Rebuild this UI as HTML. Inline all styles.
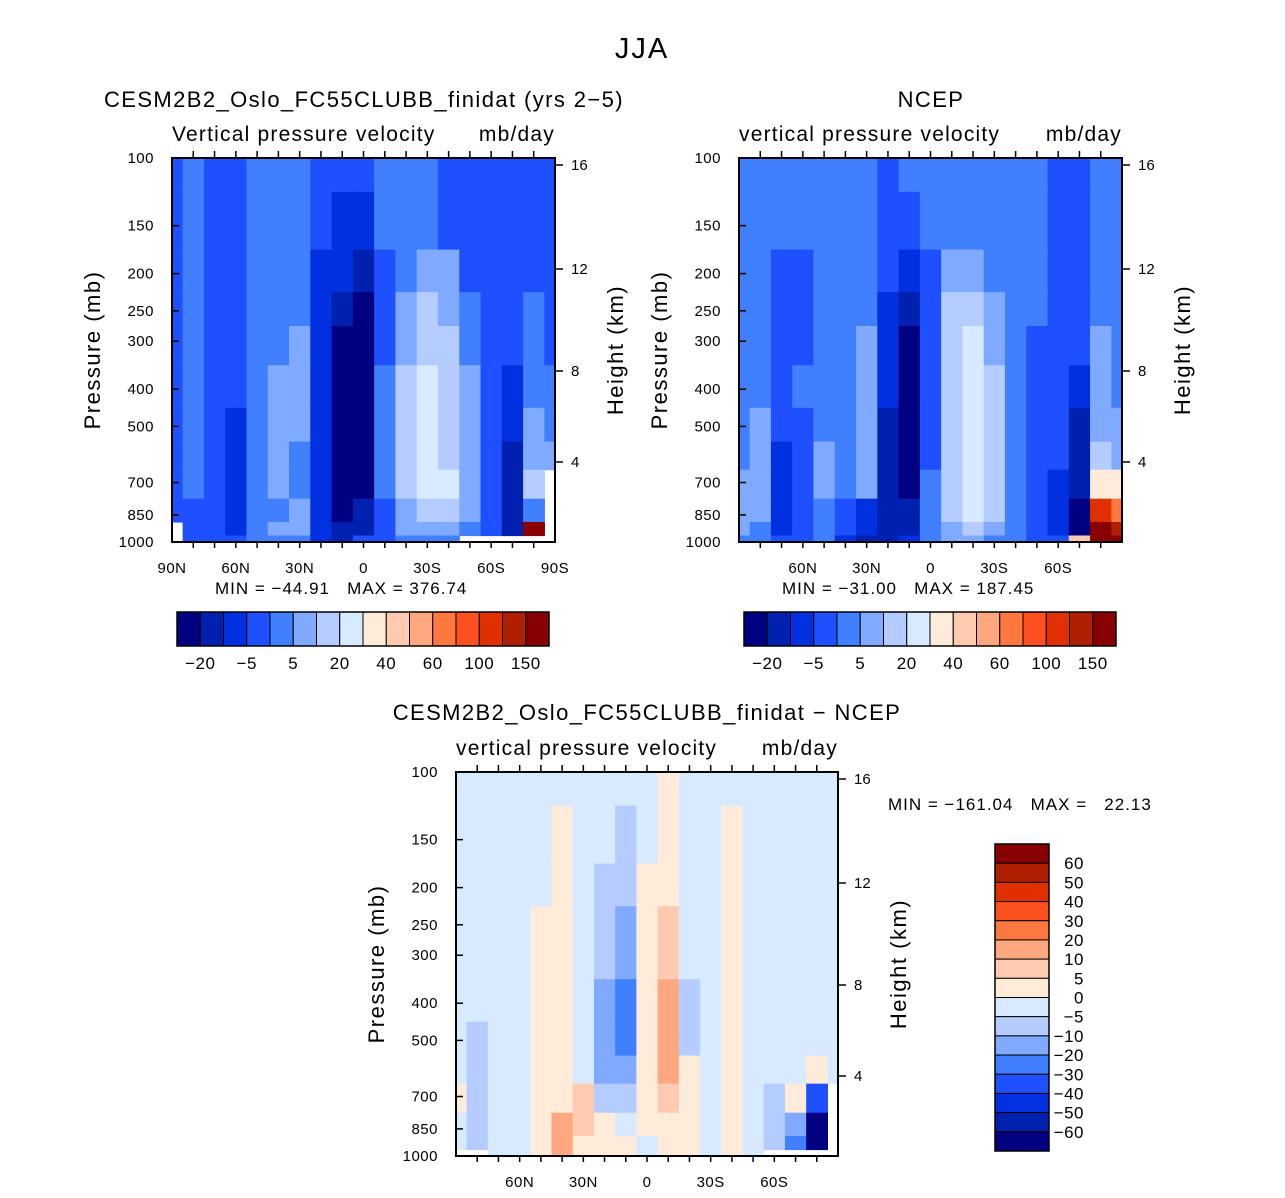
<!DOCTYPE html>
<html><head><meta charset="utf-8"><style>
body{margin:0;background:#fff;}
svg text{font-family:"Liberation Sans",sans-serif;fill:#000;white-space:pre;}
</style></head><body>
<svg id="fig" width="1285" height="1193" viewBox="0 0 1285 1193" xmlns="http://www.w3.org/2000/svg">
<text x="642" y="58" font-size="29" text-anchor="middle" letter-spacing="2">JJA</text>
</svg>
<script>
// ---- data ----
const lats = [90,80,70,60,50,40,30,20,10,0,-10,-20,-30,-40,-50,-60,-70,-80,-90];
const plevs = [100,150,200,250,300,400,500,600,700,850,925,1000];
const levelsMain = [-20,-10,-5,0,5,10,20,30,40,50,60,80,100,120,150];
const levelsDiff = [-60,-50,-40,-30,-20,-10,-5,0,5,10,20,30,40,50,60];
const colors = ["#000080","#0020B0","#0030E0","#1E50FF","#4080FF","#80AAFF","#B4CCFF","#D8EAFF","#FFEBDA","#FFCBB0","#FFA880","#FF7840","#FF5020","#E03000","#B02000","#880000"];
const labelsMain = ["-20","-5","5","20","40","60","100","150"];
const labelsDiff = ["60","50","40","30","20","10","5","0","-5","-10","-20","-30","-40","-50","-60"];
const N = NaN;
const modelW = [
[-2,2,-2,-2,2,2,2,-2,-2,-2,2,2,2,-2,-2,-2,-2,-2,-2],
[-2,2,-2,-2,2,2,2,-2,-7,-7,2,2,2,-2,-2,-2,-2,-2,-2],
[-2,2,-2,-2,2,2,2,-7,-7,-15,-2,2,7,7,-2,-2,-2,-2,-2],
[-2,2,-2,-2,2,2,2,-7,-15,-30,-2,7,15,7,2,-2,-2,2,-2],
[-2,2,-2,-2,2,2,7,-7,-30,-30,-2,7,15,15,2,-2,-2,2,-2],
[-2,2,-2,-2,2,7,7,-7,-30,-30,2,15,25,15,7,-2,-7,2,2],
[-2,2,-2,-7,2,7,7,-7,-30,-30,2,15,25,15,7,-2,-7,7,2],
[-2,2,-2,-7,2,7,2,-7,-30,-30,2,15,25,15,7,-2,-15,7,7],
[-2,2,-2,-7,2,7,2,-7,-30,-30,2,15,25,25,7,-2,-15,15,N],
[-2,-2,-2,-7,2,2,7,-7,-30,-15,-2,7,15,15,7,-2,-15,2,N],
[N,-2,-2,-7,2,7,7,-7,-15,-15,-2,7,7,7,2,-2,-15,150,N],
[N,-2,-2,-2,2,2,2,-7,-15,-2,-2,2,2,2,N,N,N,N,N]];
const ncepW = [
[2,2,2,2,2,2,2,-2,2,2,2,2,2,2,2,-2,-2,2,2],
[2,2,2,2,2,2,2,-2,-2,2,2,2,2,2,2,-2,-2,2,2],
[2,2,-2,-2,2,2,2,-2,-7,-2,7,7,2,2,2,-2,-2,2,2],
[2,2,-2,-2,2,2,2,-7,-15,-2,15,15,7,2,2,-2,-2,2,2],
[2,2,-2,-2,2,2,7,-7,-30,-2,15,25,7,2,-2,-2,-2,7,2],
[2,2,-2,2,2,2,7,-7,-30,-2,15,25,15,2,-2,-2,-7,7,2],
[2,7,-2,-2,2,2,7,-15,-30,-2,15,25,15,2,-2,-2,-15,7,7],
[2,7,-7,-2,7,2,7,-15,-30,-2,15,25,15,2,-2,-2,-15,15,7],
[7,7,-7,-2,7,2,7,-15,-30,2,15,25,15,2,-2,-7,-15,35,35],
[7,7,-7,-2,2,-2,-7,-15,-15,2,15,25,15,2,-2,-7,-30,110,70],
[7,2,-7,-2,2,-2,-7,-15,-15,2,7,15,7,2,-2,-7,-30,200,130],
[2,2,-2,-2,2,-7,-15,-15,-7,2,7,7,2,2,-2,-2,45,200,200]];
const diffW = [
[-2,-2,-2,-2,-2,-2,-2,-2,-2,-2,2,-2,-2,-2,-2,-2,-2,-2,-2],
[-2,-2,-2,-2,-2,2,-2,-2,-7,-2,2,-2,-2,2,-2,-2,-2,-2,-2],
[-2,-2,-2,-2,-2,2,-2,-7,-7,2,2,-2,-2,2,-2,-2,-2,-2,-2],
[-2,-2,-2,-2,2,2,-2,-7,-15,2,7,-2,-2,2,-2,-2,-2,-2,-2],
[-2,-2,-2,-2,2,2,-2,-7,-15,2,7,-2,-2,2,-2,-2,-2,-2,-2],
[-2,-2,-2,-2,2,2,-2,-15,-25,2,15,-7,-2,2,-2,-2,-2,-2,-2],
[-2,-7,-2,-2,2,2,-2,-15,-25,2,15,-7,-2,2,-2,-2,-2,-2,-2],
[-2,-7,-2,-2,2,2,-2,-15,-15,2,15,2,-2,2,-2,-2,-2,2,-2],
[2,-7,-2,-2,2,2,7,-7,-7,2,7,2,-2,2,-2,-7,2,-35,N],
[-2,-7,-2,-2,2,15,7,2,-2,2,2,2,-2,2,-2,-7,-15,-70,N],
[-2,-7,-2,-2,2,15,2,2,2,-2,2,2,-2,2,-2,-7,-25,-70,N],
[N,N,-2,-2,2,15,2,2,2,-2,2,2,-2,2,-2,N,N,N,N]];
const pTicks = [100,150,200,250,300,400,500,700,850,1000];
const kmTicks = [16,12,8,4];
const kmOffsets = [7,111,213,304];
const latTickLabels = ["90N","60N","30N","0","30S","60S","90S"];
const latTickVals = [90,60,30,0,-30,-60,-90];

// ---- drawing ----
const NS="http://www.w3.org/2000/svg";
const svg=document.getElementById('fig');
function mk(tag,attrs,parent){const e=document.createElementNS(NS,tag);for(const k in attrs)e.setAttribute(k,attrs[k]);(parent||svg).appendChild(e);return e;}
function colIdx(v,lv){let i=0;while(i<lv.length&&v>=lv[i])i++;return i;}

function panel(cfg){
  const {x0,y0,W,H,data,levels,name}=cfg;
  const g=mk('g',{});
  
  
  const xS=lat=>x0+(90-lat)/180*W;
  const yS=p=>y0+(Math.log10(p)-2)*H;
  for(let r=0;r<plevs.length;r++){
    const yt=r===0?y0:yS(Math.sqrt(plevs[r-1]*plevs[r]));
    const yb=r===plevs.length-1?y0+H:yS(Math.sqrt(plevs[r]*plevs[r+1]));
    for(let c=0;c<lats.length;c++){
      const v=data[r][c]; if(isNaN(v))continue;
      const xl=c===0?x0:xS((lats[c-1]+lats[c])/2);
      const xr=c===lats.length-1?x0+W:xS((lats[c]+lats[c+1])/2);
      const rc=mk('rect',{x:xl,y:yt,width:xr-xl+0.6,height:yb-yt+0.6,fill:colors[colIdx(v,levels)]},g);
      
      
    }
  }
  mk('rect',{x:x0,y:y0,width:W,height:H,fill:'none',stroke:'#000','stroke-width':2},g);
  for(let lat=80;lat>=-80;lat-=10){
    const x=xS(lat);
    mk('line',{x1:x,y1:y0,x2:x,y2:y0-7,stroke:'#000','stroke-width':1.5},g);
    mk('line',{x1:x,y1:y0+H,x2:x,y2:y0+H+6,stroke:'#000','stroke-width':1.5},g);
  }
  latTickVals.forEach((lat,i)=>{
    if(cfg.skipEnds&&(lat===90||lat===-90))return;
    const t=mk('text',{x:xS(lat),y:y0+H+31,'font-size':15,'text-anchor':'middle','letter-spacing':0.5},g);
    t.textContent=latTickLabels[i];
    
    
  });
  pTicks.forEach(p=>{
    const y=yS(p);
    mk('line',{x1:x0,y1:y,x2:x0+7,y2:y,stroke:'#000','stroke-width':1.5},g);
    const t=mk('text',{x:x0-18,y:y+5,'font-size':15,'text-anchor':'end','letter-spacing':0.5},g);
    t.textContent=p;
    
    
  });
  kmTicks.forEach((k,i)=>{
    const y=y0+kmOffsets[i];
    mk('line',{x1:x0+W,y1:y,x2:x0+W+8,y2:y,stroke:'#000','stroke-width':1.5},g);
    const t=mk('text',{x:x0+W+16,y:y+5,'font-size':15},g);
    t.textContent=k;
    
    
  });
  let t=mk('text',{transform:`translate(${x0-72},${y0+H/2}) rotate(-90)`,'font-size':22,'text-anchor':'middle','letter-spacing':1.5},g);
  t.textContent='Pressure (mb)';
  
  
  t=mk('text',{transform:`translate(${x0+W+68},${y0+H/2}) rotate(-90)`,'font-size':22,'text-anchor':'middle','letter-spacing':1.5},g);
  t.textContent='Height (km)';
  
  
  t=mk('text',{x:x0,y:y0-17,'font-size':21,'letter-spacing':1.2},g);
  t.textContent=cfg.sub;
  
  
  t=mk('text',{x:x0+W,y:y0-17,'font-size':21,'text-anchor':'end','letter-spacing':1.2},g);
  t.textContent='mb/day';
  
  
  t=mk('text',{x:cfg.tx,y:cfg.ty,'font-size':22,'text-anchor':'middle','letter-spacing':1.4},g);
  t.textContent=cfg.title;
  
  
  t=mk('text',{x:cfg.mx,y:cfg.my,'font-size':17,'letter-spacing':1},g);
  t.textContent=cfg.minmax;
  
  
}

function hbar(x0,y0,name){
  const w=372/16;
  const g=mk('g',{});
  
  
  colors.forEach((c,i)=>{
    const r=mk('rect',{x:x0+i*w,y:y0,width:w,height:34,fill:c,stroke:'#000','stroke-width':1},g);
    
    
  });
  mk('rect',{x:x0,y:y0,width:372,height:34,fill:'none',stroke:'#000','stroke-width':1.5},g);
  labelsMain.forEach((l,i)=>{
    const t=mk('text',{x:x0+(2*i+1)*w,y:y0+57,'font-size':17,'text-anchor':'middle','letter-spacing':0.5},g);
    t.textContent=l.replace('-','\u2212');
    
    
  });
}

panel({x0:172,y0:158,W:383,H:384,data:modelW,levels:levelsMain,name:'model',sub:'Vertical pressure velocity',title:'CESM2B2_Oslo_FC55CLUBB_finidat (yrs 2\u22125)',tx:364,ty:107,mx:215,my:594,minmax:'MIN = \u221244.91   MAX = 376.74'});
panel({x0:739,y0:158,W:383,H:384,data:ncepW,levels:levelsMain,name:'ncep',skipEnds:true,sub:'vertical pressure velocity',title:'NCEP',tx:931,ty:107,mx:782,my:594,minmax:'MIN = \u221231.00   MAX = 187.45'});
panel({x0:456,y0:772,W:382,H:384,data:diffW,levels:levelsDiff,name:'difference',skipEnds:true,sub:'vertical pressure velocity',title:'CESM2B2_Oslo_FC55CLUBB_finidat \u2212 NCEP',tx:647,ty:720,mx:888,my:810,minmax:'MIN = \u2212161.04   MAX =   22.13'});
hbar(177,612,'model-colorbar');
hbar(744,612,'ncep-colorbar');

(function(){
  const g=mk('g',{});
  
  
  const h=307/16;
  for(let i=0;i<16;i++){
    const r=mk('rect',{x:995,y:844+i*h,width:54,height:h,fill:colors[15-i],stroke:'#000','stroke-width':1},g);
    
    
  }
  mk('rect',{x:995,y:844,width:54,height:307,fill:'none',stroke:'#000','stroke-width':1.5},g);
  labelsDiff.forEach((l,i)=>{
    const t=mk('text',{x:1084,y:844+(i+1)*h+6,'font-size':17,'text-anchor':'end','letter-spacing':0.5},g);
    t.textContent=l.replace('-','\u2212');
    
    
  });
})();
</script>
</body></html>
